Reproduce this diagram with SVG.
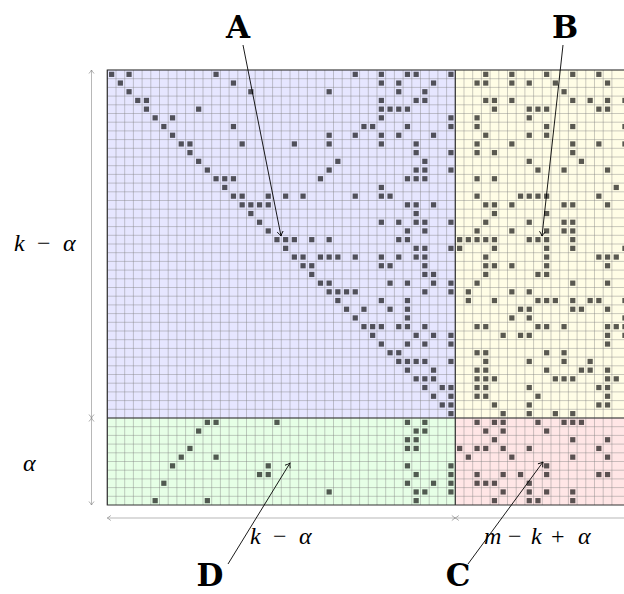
<svg xmlns="http://www.w3.org/2000/svg" width="624" height="594" viewBox="0 0 624 594">
<style>
.bg-b{fill:#e6e6ff}.bg-y{fill:#fffde6}.bg-g{fill:#e6ffe6}.bg-r{fill:#ffe6e6}
.grid{fill:none;stroke:#808080;stroke-opacity:0.6;stroke-width:0.7}
.bord{fill:none;stroke:#333;stroke-width:1.2}
.sq{fill:#000;fill-opacity:0.65}
.dim{fill:none;stroke:#888;stroke-width:0.6}
.ptr{fill:none;stroke:#000;stroke-width:0.9}
.lbl{font-family:"DejaVu Serif","Liberation Serif",serif;font-weight:bold;font-size:31px;fill:#000}
.math{font-family:"Liberation Serif","DejaVu Serif",serif;font-size:24px;fill:#000}
.it{font-style:italic}
</style>
<defs>
<rect id="q" class="sq" x="0.2" y="0.2" width="0.6" height="0.6"/>
<marker id="ah" markerUnits="userSpaceOnUse" markerWidth="12" markerHeight="12" refX="0" refY="0" viewBox="-7 -6 9 12" orient="auto"><path d="M-4.5,-3 Q-1.5,-0.6 0,0 Q-1.5,0.6 -4.5,3" fill="none" stroke="#000" stroke-width="0.9"/></marker>
<marker id="dh" markerUnits="userSpaceOnUse" markerWidth="10" markerHeight="10" refX="0" refY="0" viewBox="-6 -5 8 10" orient="auto-start-reverse"><path d="M-3.5,-2.5 Q-1,-0.5 0,0 Q-1,0.5 -3.5,2.5" fill="none" stroke="#888" stroke-width="0.7"/></marker>
</defs>
<g id="matrix" transform="translate(107.3,70) scale(8.7)">
<g id="blockA"><rect class="bg-b" x="0" y="0" width="40" height="40"/></g>
<g id="blockB"><rect class="bg-y" x="40" y="0" width="20" height="40"/></g>
<g id="blockD"><rect class="bg-g" x="0" y="40" width="40" height="10"/></g>
<g id="blockC"><rect class="bg-r" x="40" y="40" width="20" height="10"/></g>
<path class="grid" vector-effect="non-scaling-stroke" d="M0 0v50m1-50v50m1-50v50m1-50v50m1-50v50m1-50v50m1-50v50m1-50v50m1-50v50m1-50v50m1-50v50m1-50v50m1-50v50m1-50v50m1-50v50m1-50v50m1-50v50m1-50v50m1-50v50m1-50v50m1-50v50m1-50v50m1-50v50m1-50v50m1-50v50m1-50v50m1-50v50m1-50v50m1-50v50m1-50v50m1-50v50m1-50v50m1-50v50m1-50v50m1-50v50m1-50v50m1-50v50m1-50v50m1-50v50m1-50v50m1-50v50m1-50v50m1-50v50m1-50v50m1-50v50m1-50v50m1-50v50m1-50v50m1-50v50m1-50v50m1-50v50m1-50v50m1-50v50m1-50v50m1-50v50m1-50v50m1-50v50m1-50v50m1-50v50M0 0h60m-60 1h60m-60 1h60m-60 1h60m-60 1h60m-60 1h60m-60 1h60m-60 1h60m-60 1h60m-60 1h60m-60 1h60m-60 1h60m-60 1h60m-60 1h60m-60 1h60m-60 1h60m-60 1h60m-60 1h60m-60 1h60m-60 1h60m-60 1h60m-60 1h60m-60 1h60m-60 1h60m-60 1h60m-60 1h60m-60 1h60m-60 1h60m-60 1h60m-60 1h60m-60 1h60m-60 1h60m-60 1h60m-60 1h60m-60 1h60m-60 1h60m-60 1h60m-60 1h60m-60 1h60m-60 1h60m-60 1h60m-60 1h60m-60 1h60m-60 1h60m-60 1h60m-60 1h60m-60 1h60m-60 1h60m-60 1h60m-60 1h60"/>
<g id="entriesA">
<use href="#q" x="0" y="0"/><use href="#q" x="2" y="0"/><use href="#q" x="12" y="0"/><use href="#q" x="28" y="0"/><use href="#q" x="31" y="0"/><use href="#q" x="34" y="0"/><use href="#q" x="35" y="0"/><use href="#q" x="39" y="0"/>
<use href="#q" x="1" y="1"/><use href="#q" x="14" y="1"/><use href="#q" x="31" y="1"/><use href="#q" x="33" y="1"/><use href="#q" x="37" y="1"/>
<use href="#q" x="2" y="2"/><use href="#q" x="16" y="2"/><use href="#q" x="25" y="2"/><use href="#q" x="33" y="2"/><use href="#q" x="36" y="2"/>
<use href="#q" x="3" y="3"/><use href="#q" x="4" y="3"/><use href="#q" x="31" y="3"/><use href="#q" x="35" y="3"/><use href="#q" x="36" y="3"/>
<use href="#q" x="4" y="4"/><use href="#q" x="10" y="4"/><use href="#q" x="31" y="4"/><use href="#q" x="32" y="4"/><use href="#q" x="33" y="4"/><use href="#q" x="34" y="4"/>
<use href="#q" x="5" y="5"/><use href="#q" x="7" y="5"/><use href="#q" x="31" y="5"/><use href="#q" x="39" y="5"/>
<use href="#q" x="6" y="6"/><use href="#q" x="14" y="6"/><use href="#q" x="29" y="6"/><use href="#q" x="30" y="6"/><use href="#q" x="34" y="6"/><use href="#q" x="39" y="6"/>
<use href="#q" x="7" y="7"/><use href="#q" x="25" y="7"/><use href="#q" x="28" y="7"/><use href="#q" x="31" y="7"/><use href="#q" x="33" y="7"/><use href="#q" x="37" y="7"/>
<use href="#q" x="8" y="8"/><use href="#q" x="9" y="8"/><use href="#q" x="15" y="8"/><use href="#q" x="21" y="8"/><use href="#q" x="25" y="8"/><use href="#q" x="31" y="8"/><use href="#q" x="35" y="8"/>
<use href="#q" x="9" y="9"/><use href="#q" x="35" y="9"/><use href="#q" x="39" y="9"/>
<use href="#q" x="10" y="10"/><use href="#q" x="26" y="10"/><use href="#q" x="36" y="10"/>
<use href="#q" x="11" y="11"/><use href="#q" x="25" y="11"/><use href="#q" x="35" y="11"/><use href="#q" x="36" y="11"/><use href="#q" x="39" y="11"/>
<use href="#q" x="12" y="12"/><use href="#q" x="13" y="12"/><use href="#q" x="14" y="12"/><use href="#q" x="24" y="12"/><use href="#q" x="34" y="12"/><use href="#q" x="35" y="12"/><use href="#q" x="36" y="12"/>
<use href="#q" x="13" y="13"/><use href="#q" x="31" y="13"/>
<use href="#q" x="14" y="14"/><use href="#q" x="15" y="14"/><use href="#q" x="18" y="14"/><use href="#q" x="20" y="14"/><use href="#q" x="22" y="14"/><use href="#q" x="28" y="14"/><use href="#q" x="31" y="14"/><use href="#q" x="32" y="14"/>
<use href="#q" x="15" y="15"/><use href="#q" x="16" y="15"/><use href="#q" x="17" y="15"/><use href="#q" x="18" y="15"/><use href="#q" x="34" y="15"/><use href="#q" x="35" y="15"/><use href="#q" x="37" y="15"/>
<use href="#q" x="16" y="16"/><use href="#q" x="35" y="16"/>
<use href="#q" x="17" y="17"/><use href="#q" x="31" y="17"/><use href="#q" x="33" y="17"/><use href="#q" x="35" y="17"/><use href="#q" x="36" y="17"/><use href="#q" x="39" y="17"/>
<use href="#q" x="18" y="18"/><use href="#q" x="34" y="18"/><use href="#q" x="36" y="18"/>
<use href="#q" x="19" y="19"/><use href="#q" x="20" y="19"/><use href="#q" x="21" y="19"/><use href="#q" x="23" y="19"/><use href="#q" x="25" y="19"/><use href="#q" x="33" y="19"/><use href="#q" x="34" y="19"/>
<use href="#q" x="20" y="20"/><use href="#q" x="35" y="20"/><use href="#q" x="36" y="20"/><use href="#q" x="39" y="20"/>
<use href="#q" x="21" y="21"/><use href="#q" x="22" y="21"/><use href="#q" x="24" y="21"/><use href="#q" x="25" y="21"/><use href="#q" x="26" y="21"/><use href="#q" x="28" y="21"/><use href="#q" x="31" y="21"/><use href="#q" x="33" y="21"/><use href="#q" x="35" y="21"/><use href="#q" x="36" y="21"/>
<use href="#q" x="22" y="22"/><use href="#q" x="23" y="22"/><use href="#q" x="31" y="22"/><use href="#q" x="32" y="22"/><use href="#q" x="36" y="22"/>
<use href="#q" x="23" y="23"/><use href="#q" x="36" y="23"/><use href="#q" x="37" y="23"/>
<use href="#q" x="24" y="24"/><use href="#q" x="25" y="24"/><use href="#q" x="32" y="24"/><use href="#q" x="34" y="24"/><use href="#q" x="37" y="24"/><use href="#q" x="39" y="24"/>
<use href="#q" x="25" y="25"/><use href="#q" x="26" y="25"/><use href="#q" x="27" y="25"/><use href="#q" x="28" y="25"/><use href="#q" x="36" y="25"/><use href="#q" x="39" y="25"/>
<use href="#q" x="26" y="26"/><use href="#q" x="31" y="26"/><use href="#q" x="34" y="26"/>
<use href="#q" x="27" y="27"/><use href="#q" x="29" y="27"/><use href="#q" x="32" y="27"/><use href="#q" x="34" y="27"/>
<use href="#q" x="28" y="28"/><use href="#q" x="34" y="28"/>
<use href="#q" x="29" y="29"/><use href="#q" x="30" y="29"/><use href="#q" x="31" y="29"/><use href="#q" x="33" y="29"/><use href="#q" x="34" y="29"/><use href="#q" x="36" y="29"/>
<use href="#q" x="30" y="30"/><use href="#q" x="35" y="30"/><use href="#q" x="37" y="30"/><use href="#q" x="39" y="30"/>
<use href="#q" x="31" y="31"/><use href="#q" x="34" y="31"/><use href="#q" x="36" y="31"/><use href="#q" x="39" y="31"/>
<use href="#q" x="32" y="32"/><use href="#q" x="33" y="32"/>
<use href="#q" x="33" y="33"/><use href="#q" x="34" y="33"/><use href="#q" x="35" y="33"/><use href="#q" x="36" y="33"/><use href="#q" x="39" y="33"/>
<use href="#q" x="34" y="34"/><use href="#q" x="37" y="34"/>
<use href="#q" x="35" y="35"/><use href="#q" x="36" y="35"/><use href="#q" x="37" y="35"/>
<use href="#q" x="36" y="36"/><use href="#q" x="38" y="36"/><use href="#q" x="39" y="36"/>
<use href="#q" x="37" y="37"/><use href="#q" x="39" y="37"/>
<use href="#q" x="38" y="38"/><use href="#q" x="39" y="38"/>
<use href="#q" x="39" y="39"/>
</g>
<g id="entriesB">
<use href="#q" x="43" y="0"/><use href="#q" x="46" y="0"/><use href="#q" x="50" y="0"/><use href="#q" x="53" y="0"/><use href="#q" x="56" y="0"/>
<use href="#q" x="42" y="1"/><use href="#q" x="43" y="1"/><use href="#q" x="46" y="1"/><use href="#q" x="48" y="1"/><use href="#q" x="51" y="1"/><use href="#q" x="57" y="1"/>
<use href="#q" x="52" y="2"/>
<use href="#q" x="43" y="3"/><use href="#q" x="44" y="3"/><use href="#q" x="46" y="3"/><use href="#q" x="53" y="3"/><use href="#q" x="55" y="3"/><use href="#q" x="57" y="3"/><use href="#q" x="59" y="3"/>
<use href="#q" x="44" y="4"/><use href="#q" x="48" y="4"/><use href="#q" x="49" y="4"/><use href="#q" x="50" y="4"/><use href="#q" x="56" y="4"/><use href="#q" x="57" y="4"/>
<use href="#q" x="42" y="5"/><use href="#q" x="48" y="5"/>
<use href="#q" x="42" y="6"/><use href="#q" x="50" y="6"/><use href="#q" x="53" y="6"/><use href="#q" x="59" y="6"/>
<use href="#q" x="43" y="7"/><use href="#q" x="48" y="7"/><use href="#q" x="50" y="7"/>
<use href="#q" x="42" y="8"/><use href="#q" x="46" y="8"/><use href="#q" x="53" y="8"/><use href="#q" x="56" y="8"/><use href="#q" x="59" y="8"/>
<use href="#q" x="42" y="9"/><use href="#q" x="44" y="9"/><use href="#q" x="53" y="9"/>
<use href="#q" x="48" y="10"/><use href="#q" x="54" y="10"/>
<use href="#q" x="49" y="11"/><use href="#q" x="52" y="11"/><use href="#q" x="57" y="11"/>
<use href="#q" x="42" y="12"/><use href="#q" x="44" y="12"/>
<use href="#q" x="58" y="13"/>
<use href="#q" x="42" y="14"/><use href="#q" x="47" y="14"/><use href="#q" x="48" y="14"/><use href="#q" x="49" y="14"/><use href="#q" x="50" y="14"/><use href="#q" x="56" y="14"/>
<use href="#q" x="43" y="15"/><use href="#q" x="44" y="15"/><use href="#q" x="46" y="15"/><use href="#q" x="52" y="15"/><use href="#q" x="53" y="15"/><use href="#q" x="57" y="15"/>
<use href="#q" x="44" y="16"/><use href="#q" x="50" y="16"/>
<use href="#q" x="43" y="17"/><use href="#q" x="48" y="17"/><use href="#q" x="52" y="17"/><use href="#q" x="53" y="17"/>
<use href="#q" x="42" y="18"/><use href="#q" x="46" y="18"/><use href="#q" x="50" y="18"/><use href="#q" x="52" y="18"/><use href="#q" x="53" y="18"/>
<use href="#q" x="40" y="19"/><use href="#q" x="41" y="19"/><use href="#q" x="42" y="19"/><use href="#q" x="43" y="19"/><use href="#q" x="44" y="19"/><use href="#q" x="48" y="19"/><use href="#q" x="49" y="19"/><use href="#q" x="50" y="19"/><use href="#q" x="53" y="19"/>
<use href="#q" x="40" y="20"/><use href="#q" x="44" y="20"/><use href="#q" x="50" y="20"/><use href="#q" x="53" y="20"/><use href="#q" x="59" y="20"/>
<use href="#q" x="43" y="21"/><use href="#q" x="50" y="21"/><use href="#q" x="56" y="21"/><use href="#q" x="57" y="21"/><use href="#q" x="58" y="21"/>
<use href="#q" x="43" y="22"/><use href="#q" x="44" y="22"/><use href="#q" x="46" y="22"/><use href="#q" x="50" y="22"/><use href="#q" x="57" y="22"/>
<use href="#q" x="43" y="23"/><use href="#q" x="49" y="23"/><use href="#q" x="50" y="23"/>
<use href="#q" x="42" y="24"/><use href="#q" x="53" y="24"/><use href="#q" x="57" y="24"/>
<use href="#q" x="41" y="25"/><use href="#q" x="46" y="25"/><use href="#q" x="48" y="25"/>
<use href="#q" x="41" y="26"/><use href="#q" x="44" y="26"/><use href="#q" x="49" y="26"/><use href="#q" x="50" y="26"/><use href="#q" x="51" y="26"/><use href="#q" x="53" y="26"/><use href="#q" x="55" y="26"/><use href="#q" x="56" y="26"/><use href="#q" x="59" y="26"/>
<use href="#q" x="47" y="27"/><use href="#q" x="48" y="27"/><use href="#q" x="53" y="27"/><use href="#q" x="54" y="27"/><use href="#q" x="57" y="27"/>
<use href="#q" x="46" y="28"/><use href="#q" x="48" y="28"/><use href="#q" x="59" y="28"/>
<use href="#q" x="42" y="29"/><use href="#q" x="43" y="29"/><use href="#q" x="49" y="29"/><use href="#q" x="50" y="29"/><use href="#q" x="52" y="29"/><use href="#q" x="57" y="29"/><use href="#q" x="58" y="29"/><use href="#q" x="59" y="29"/>
<use href="#q" x="45" y="30"/><use href="#q" x="47" y="30"/><use href="#q" x="48" y="30"/><use href="#q" x="57" y="30"/><use href="#q" x="59" y="30"/>
<use href="#q" x="57" y="31"/>
<use href="#q" x="42" y="32"/><use href="#q" x="43" y="32"/><use href="#q" x="50" y="32"/><use href="#q" x="52" y="32"/>
<use href="#q" x="43" y="33"/><use href="#q" x="48" y="33"/><use href="#q" x="52" y="33"/><use href="#q" x="55" y="33"/>
<use href="#q" x="42" y="34"/><use href="#q" x="43" y="34"/><use href="#q" x="50" y="34"/><use href="#q" x="54" y="34"/><use href="#q" x="55" y="34"/><use href="#q" x="57" y="34"/>
<use href="#q" x="42" y="35"/><use href="#q" x="43" y="35"/><use href="#q" x="44" y="35"/><use href="#q" x="51" y="35"/><use href="#q" x="52" y="35"/><use href="#q" x="53" y="35"/><use href="#q" x="57" y="35"/><use href="#q" x="58" y="35"/>
<use href="#q" x="42" y="36"/><use href="#q" x="43" y="36"/><use href="#q" x="48" y="36"/><use href="#q" x="56" y="36"/><use href="#q" x="57" y="36"/>
<use href="#q" x="42" y="37"/><use href="#q" x="43" y="37"/><use href="#q" x="49" y="37"/><use href="#q" x="57" y="37"/>
<use href="#q" x="44" y="38"/><use href="#q" x="48" y="38"/><use href="#q" x="56" y="38"/><use href="#q" x="57" y="38"/>
<use href="#q" x="45" y="39"/><use href="#q" x="48" y="39"/><use href="#q" x="51" y="39"/><use href="#q" x="53" y="39"/>
</g>
<g id="entriesD">
<use href="#q" x="11" y="40"/><use href="#q" x="12" y="40"/><use href="#q" x="19" y="40"/><use href="#q" x="34" y="40"/><use href="#q" x="36" y="40"/>
<use href="#q" x="10" y="41"/><use href="#q" x="35" y="41"/><use href="#q" x="36" y="41"/>
<use href="#q" x="34" y="42"/><use href="#q" x="35" y="42"/>
<use href="#q" x="9" y="43"/><use href="#q" x="34" y="43"/><use href="#q" x="35" y="43"/>
<use href="#q" x="8" y="44"/><use href="#q" x="12" y="44"/>
<use href="#q" x="7" y="45"/><use href="#q" x="18" y="45"/><use href="#q" x="34" y="45"/><use href="#q" x="39" y="45"/>
<use href="#q" x="17" y="46"/><use href="#q" x="18" y="46"/><use href="#q" x="35" y="46"/><use href="#q" x="39" y="46"/>
<use href="#q" x="6" y="47"/><use href="#q" x="34" y="47"/><use href="#q" x="37" y="47"/><use href="#q" x="39" y="47"/>
<use href="#q" x="25" y="48"/><use href="#q" x="35" y="48"/><use href="#q" x="36" y="48"/><use href="#q" x="39" y="48"/>
<use href="#q" x="5" y="49"/><use href="#q" x="11" y="49"/><use href="#q" x="35" y="49"/>
</g>
<g id="entriesC">
<use href="#q" x="42" y="40"/><use href="#q" x="44" y="40"/><use href="#q" x="45" y="40"/><use href="#q" x="49" y="40"/><use href="#q" x="52" y="40"/><use href="#q" x="53" y="40"/><use href="#q" x="54" y="40"/>
<use href="#q" x="43" y="41"/><use href="#q" x="45" y="41"/><use href="#q" x="50" y="41"/>
<use href="#q" x="44" y="42"/><use href="#q" x="53" y="42"/><use href="#q" x="57" y="42"/>
<use href="#q" x="40" y="43"/><use href="#q" x="42" y="43"/><use href="#q" x="43" y="43"/><use href="#q" x="45" y="43"/><use href="#q" x="48" y="43"/><use href="#q" x="56" y="43"/>
<use href="#q" x="41" y="44"/><use href="#q" x="46" y="44"/><use href="#q" x="53" y="44"/><use href="#q" x="57" y="44"/>
<use href="#q" x="50" y="45"/>
<use href="#q" x="42" y="46"/><use href="#q" x="45" y="46"/><use href="#q" x="47" y="46"/><use href="#q" x="50" y="46"/><use href="#q" x="56" y="46"/><use href="#q" x="57" y="46"/>
<use href="#q" x="42" y="47"/><use href="#q" x="43" y="47"/><use href="#q" x="44" y="47"/><use href="#q" x="48" y="47"/>
<use href="#q" x="45" y="48"/><use href="#q" x="48" y="48"/><use href="#q" x="50" y="48"/><use href="#q" x="53" y="48"/>
<use href="#q" x="44" y="49"/><use href="#q" x="48" y="49"/><use href="#q" x="49" y="49"/><use href="#q" x="53" y="49"/>
</g>
<path class="bord" vector-effect="non-scaling-stroke" d="M0 0H60V50H0Z M40 0V50 M0 40H60"/>
</g>
<g id="connectors">
<path class="dim" d="M91.5 70V418" marker-start="url(#dh)" marker-end="url(#dh)"/>
<path class="dim" d="M91.5 418V505" marker-start="url(#dh)" marker-end="url(#dh)"/>
<path class="dim" d="M107.3 518H455.3" marker-start="url(#dh)" marker-end="url(#dh)"/>
<path class="dim" d="M455.3 518H629.3" marker-start="url(#dh)" marker-end="url(#dh)"/>
<path class="ptr" d="M243 45L281 236" marker-end="url(#ah)"/>
<path class="ptr" d="M563 45L542 236" marker-end="url(#ah)"/>
<path class="ptr" d="M228 564L290 463" marker-end="url(#ah)"/>
<path class="ptr" d="M468 564L543 462" marker-end="url(#ah)"/>
</g>
<g id="dimlabels">
<text class="math" y="251"><tspan class="it" x="14">k</tspan><tspan x="37">−</tspan><tspan class="it" x="63">α</tspan></text>
<text class="math" y="471"><tspan class="it" x="23">α</tspan></text>
<text class="math" y="544"><tspan class="it" x="250">k</tspan><tspan x="273">−</tspan><tspan class="it" x="299">α</tspan></text>
<text class="math" y="544"><tspan class="it" x="484">m</tspan><tspan x="508">−</tspan><tspan class="it" x="531">k</tspan><tspan x="551">+</tspan><tspan class="it" x="578">α</tspan></text>
</g>
<g id="labelA"><text class="lbl" x="238" y="38" text-anchor="middle">A</text></g>
<g id="labelB"><text class="lbl" x="565" y="38" text-anchor="middle">B</text></g>
<g id="labelD"><text class="lbl" x="210" y="586" text-anchor="middle">D</text></g>
<g id="labelC"><text class="lbl" x="458" y="586" text-anchor="middle">C</text></g>
</svg>
